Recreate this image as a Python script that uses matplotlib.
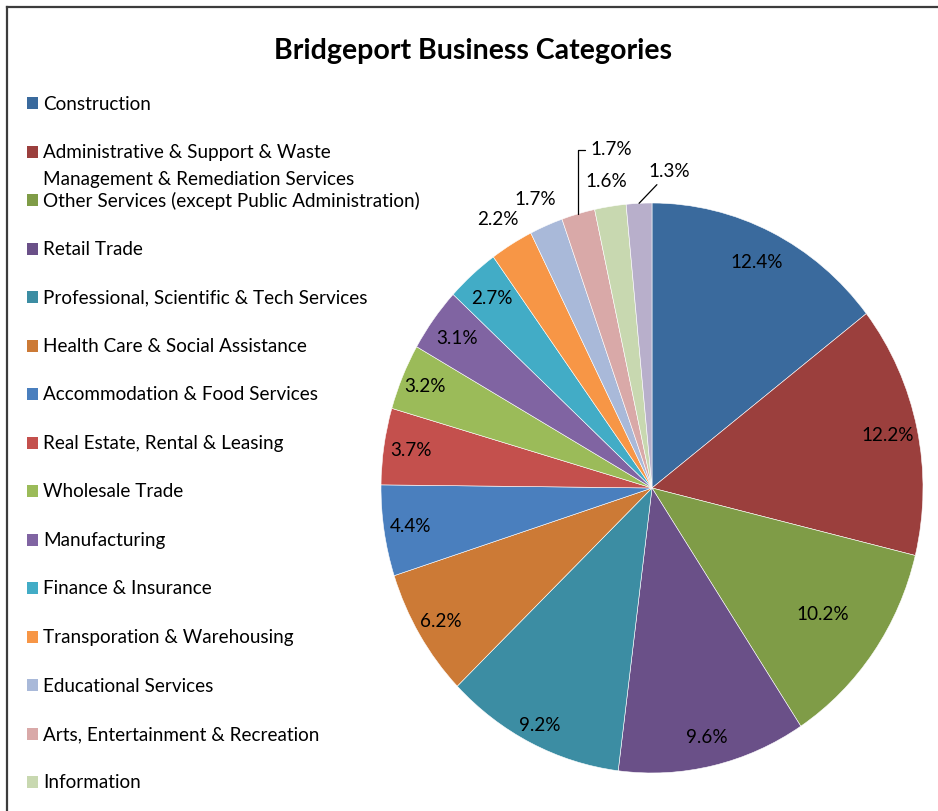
import numpy as np
import matplotlib.pyplot as plt
from matplotlib.patches import Rectangle
from matplotlib.lines import Line2D

plt.rcParams['font.family'] = ['Lato', 'DejaVu Sans']

#%% data
categories = [
    "Construction",
    "Administrative & Support & Waste\nManagement & Remediation Services",
    "Other Services (except Public Administration)",
    "Retail Trade",
    "Professional, Scientific & Tech Services",
    "Health Care & Social Assistance",
    "Accommodation & Food Services",
    "Real Estate, Rental & Leasing",
    "Wholesale Trade",
    "Manufacturing",
    "Finance & Insurance",
    "Transporation & Warehousing",
    "Educational Services",
    "Arts, Entertainment & Recreation",
    "Information",
]
shares = [12.4, 12.2, 10.2, 9.6, 9.2, 6.2, 4.4, 3.7, 3.2, 3.1, 2.7, 2.2, 1.7, 1.7, 1.6, 1.3]
colors = ["#3a6a9d", "#9b3f3d", "#7f9c47", "#6a5088", "#3c8da3", "#cc7a36",
          "#4a7fbe", "#c4504d", "#9bbb59", "#8064a2", "#42acc6", "#f79646",
          "#a9b9d9", "#d9a9a8", "#c8d8b0", "#b8afcb"]

# radial position of each value label (fraction of the pie radius)
label_r = [0.88, 0.89, 0.77, 0.90, 0.93, 0.91, 0.90, 0.90, 0.91, 0.89, 0.89,
           1.10, 1.10, None, 1.09, None]
# labels that sit away from their slice with a leader line (offset in points)
leader = {13: ((24, 46), "angle,angleA=0,angleB=90,rad=0"),
          15: ((22, 23), "arc3,rad=0")}

FS = 13.6
W, H = 938, 811
def fx(x): return x / W
def fy(y): return 1 - y / H

fig = plt.figure(figsize=(W / 100, H / 100), dpi=100)
fig.patch.set_facecolor('white')

# chart frame (only top and left edges are in view)
fig.add_artist(Line2D([fx(7), fx(7)], [fy(7), fy(H + 5)], color='#3c3c3c', lw=1.6))
fig.add_artist(Line2D([fx(7), fx(W + 5)], [fy(7), fy(7)], color='#3c3c3c', lw=1.6))

fig.text(fx(473), fy(51), "Bridgeport Business Categories", ha='center', va='center',
         fontsize=20.5, fontweight='bold', color='black')

#%% pie
ax = fig.add_axes([fx(381), fy(773), 542 / W, 570 / H])
wedges, _ = ax.pie(shares, colors=colors, startangle=90, counterclock=False,
                   wedgeprops=dict(edgecolor='white', linewidth=0.4))
ax.set_aspect('auto')
ax.set_xlim(-1, 1)
ax.set_ylim(-1, 1)
ax.axis('off')

for i, (w, v) in enumerate(zip(wedges, shares)):
    th = np.deg2rad((w.theta1 + w.theta2) / 2)
    txt = f"{v}%"
    if i in leader:
        off, conn = leader[i]
        ax.annotate(txt, xy=(np.cos(th), np.sin(th)), xytext=off,
                    textcoords='offset points', ha='center', va='center',
                    fontsize=FS, annotation_clip=False,
                    arrowprops=dict(arrowstyle='-', color='black', lw=0.9,
                                    connectionstyle=conn, shrinkA=2, shrinkB=0))
    else:
        r = label_r[i]
        ax.text(r * np.cos(th), r * np.sin(th), txt, ha='center', va='center',
                fontsize=FS, clip_on=False)

#%% legend
pitch = 48.5
for i, (name, c) in enumerate(zip(categories, colors)):
    yc = 103 + i * pitch
    fig.add_artist(Rectangle((fx(27), fy(yc + 6)), 11 / W, 12 / H,
                             transform=fig.transFigure, facecolor=c, edgecolor='none'))
    for k, line in enumerate(name.split("\n")):
        fig.text(fx(43), fy(yc + 6.5 + k * 27), line, ha='left', va='baseline',
                 fontsize=FS)

fig.savefig("out.png", dpi=100)
